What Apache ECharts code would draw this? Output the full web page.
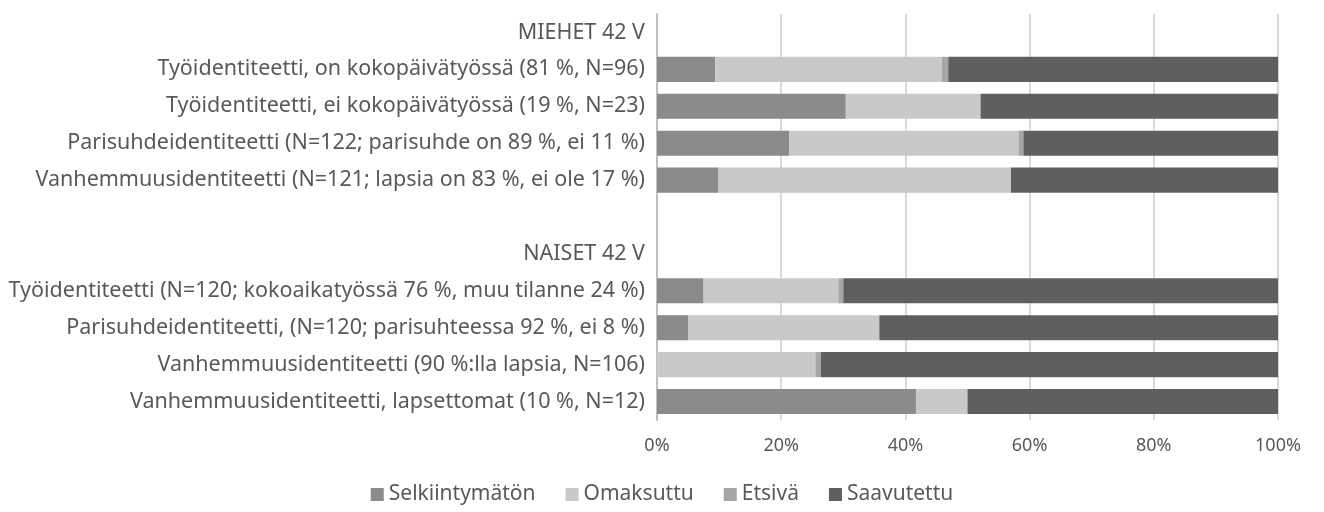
<!DOCTYPE html>
<html>
<head>
<meta charset="utf-8">
<script src="https://cdn.jsdelivr.net/npm/echarts@6/dist/echarts.min.js"></script>
<style>html,body{margin:0;padding:0;background:#fff}#c{width:1324px;height:512px}</style>
</head>
<body>
<div id="c"></div>
<script>
var categories = [
  "MIEHET 42 V",
  "Työidentiteetti, on kokopäivätyössä (81 %, N=96)",
  "Työidentiteetti, ei kokopäivätyössä (19 %, N=23)",
  "Parisuhdeidentiteetti (N=122; parisuhde on 89 %, ei 11 %)",
  "Vanhemmuusidentiteetti (N=121; lapsia on 83 %, ei ole 17 %)",
  " ",
  "NAISET 42 V",
  "Työidentiteetti (N=120; kokoaikatyössä 76 %, muu tilanne 24 %)",
  "Parisuhdeidentiteetti, (N=120; parisuhteessa 92 %, ei 8 %)",
  "Vanhemmuusidentiteetti (90 %:lla lapsia, N=106)",
  "Vanhemmuusidentiteetti, lapsettomat (10 %, N=12)"
];
var seriesNames = ["Selkiintymätön", "Omaksuttu", "Etsivä", "Saavutettu"];
var selkiintymaton = [null, 9.4, 30.4, 21.3, 9.9, null, null, 7.5, 5.0, 0, 41.7];
var omaksuttu      = [null, 36.5, 21.7, 36.9, 47.1, null, null, 21.7, 30.8, 25.5, 8.3];
var etsiva         = [null, 1.0, 0, 0.8, 0, null, null, 0.8, 0, 0.9, 0];
var saavutettu     = [null, 53.1, 47.9, 41.0, 43.0, null, null, 70.0, 64.2, 73.6, 50.0];
var tickLabels = ["0%", "20%", "40%", "60%", "80%", "100%"];
var colors = ["#8b8b8b", "#c9c9c9", "#a6a6a6", "#5f5f5f"];

var values = [selkiintymaton, omaksuttu, etsiva, saavutettu];
var chart = echarts.init(document.getElementById('c'), null, {renderer: 'canvas'});
var font = "'Noto Sans', sans-serif";
chart.setOption({
  animation: false,
  textStyle: {fontFamily: font},
  grid: {left: 657, right: 46, top: 14, bottom: 92, containLabel: false},
  legend: {
    bottom: 2, left: 'center',
    itemWidth: 13, itemHeight: 13, itemGap: 30,
    icon: 'rect',
    textStyle: {color: '#595959', fontSize: 21, fontFamily: font},
    data: seriesNames
  },
  xAxis: {
    type: 'value', min: 0, max: 100, interval: 20,
    axisLabel: {color: '#595959', fontSize: 18, margin: 17, fontFamily: font,
      formatter: function(v){ return tickLabels[Math.round(v/20)]; }},
    splitLine: {show: true, lineStyle: {color: '#d9d9d9', width: 2}},
    axisLine: {show: false}, axisTick: {show: false}
  },
  yAxis: {
    type: 'category', inverse: true, data: categories,
    axisLine: {show: true, lineStyle: {color: '#bfbfbf', width: 2}},
    axisTick: {show: false},
    axisLabel: {color: '#595959', fontSize: 21.5, margin: 12, fontFamily: font}
  },
  series: seriesNames.map(function(n, i){
    return {
      name: n, type: 'bar', stack: 'total', data: values[i],
      barCategoryGap: '32%',
      itemStyle: {color: colors[i]}
    };
  })
});
</script>
</body>
</html>
